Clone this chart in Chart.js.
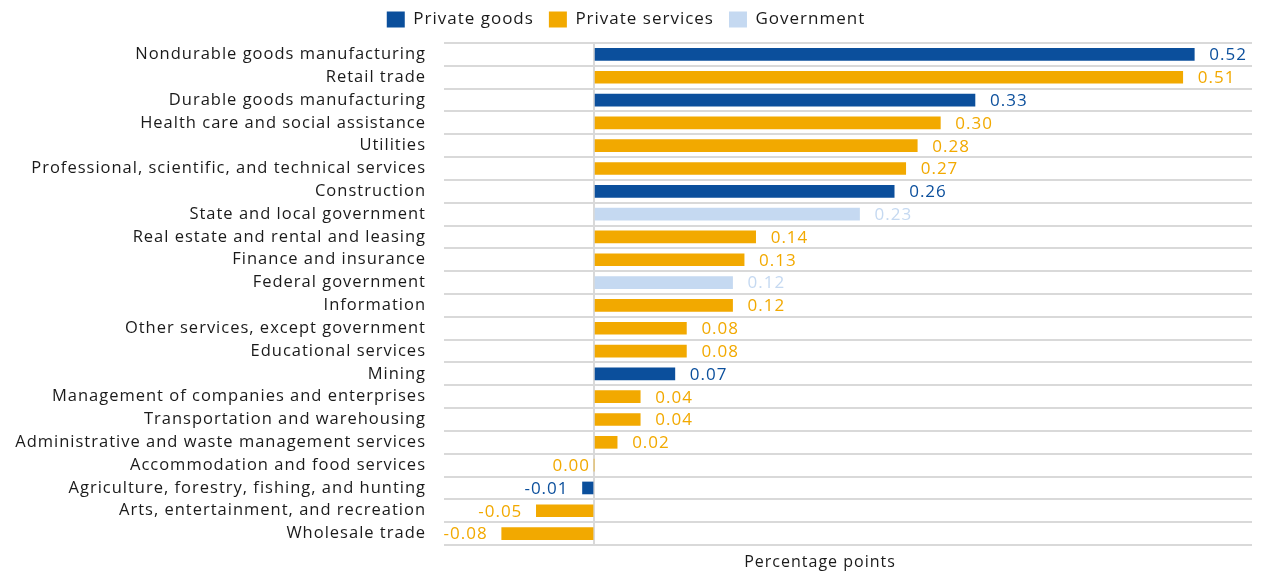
<!DOCTYPE html>
<html>
<head>
<meta charset="utf-8">
<script src="https://cdn.jsdelivr.net/npm/chart.js@4.4.1/dist/chart.umd.min.js"></script>
<style>
  html, body { margin: 0; padding: 0; background: #fff; }
  #wrap { width: 1261px; height: 573px; }
</style>
</head>
<body>
<div id="wrap"><canvas id="chart"></canvas></div>
<script>
const industries = [
  'Nondurable goods manufacturing',
  'Retail trade',
  'Durable goods manufacturing',
  'Health care and social assistance',
  'Utilities',
  'Professional, scientific, and technical services',
  'Construction',
  'State and local government',
  'Real estate and rental and leasing',
  'Finance and insurance',
  'Federal government',
  'Information',
  'Other services, except government',
  'Educational services',
  'Mining',
  'Management of companies and enterprises',
  'Transportation and warehousing',
  'Administrative and waste management services',
  'Accommodation and food services',
  'Agriculture, forestry, fishing, and hunting',
  'Arts, entertainment, and recreation',
  'Wholesale trade'
];
const contributions = [0.52, 0.51, 0.33, 0.30, 0.28, 0.27, 0.26, 0.23, 0.14, 0.13, 0.12,
  0.12, 0.08, 0.08, 0.07, 0.04, 0.04, 0.02, 0.00, -0.01, -0.05, -0.08];
// 0 = private goods, 1 = private services, 2 = government
const sectors = [0, 1, 0, 1, 1, 1, 0, 2, 1, 1, 2, 1, 1, 1, 0, 1, 1, 1, 1, 0, 1, 1];
const sectorNames = ['Private goods', 'Private services', 'Government'];
const sectorColors = ['#0b4f9c', '#f2a900', '#c5d9f1'];

const FONT = '"Open Sans", sans-serif';
const TEXT = '#1a1a1a';

// slightly looser lettering for all chart text
const spacing = {
  id: 'spacing',
  beforeLayout(chart) { chart.ctx.letterSpacing = '1px'; },
  beforeDraw(chart) { chart.ctx.letterSpacing = '1px'; }
};

// value labels at the outer end of each bar, coloured like the bar
const valueLabels = {
  id: 'valueLabels',
  afterDatasetsDraw(chart) {
    const ctx = chart.ctx;
    const meta = chart.getDatasetMeta(0);
    ctx.save();
    ctx.font = '17px ' + FONT;
    ctx.textBaseline = 'middle';
    meta.data.forEach((bar, i) => {
      const v = contributions[i];
      ctx.fillStyle = sectorColors[sectors[i]];
      const txt = v.toFixed(2);
      if (v > 0) {
        ctx.textAlign = 'left';
        ctx.fillText(txt, bar.x + 15, bar.y + 1);
      } else {
        ctx.textAlign = 'right';
        ctx.fillText(txt, bar.x - (v === 0 ? 4 : 14), bar.y + 1);
      }
    });
    ctx.restore();
  }
};

// axis caption under the plot
const axisCaption = {
  id: 'axisCaption',
  afterDraw(chart) {
    const { ctx, chartArea } = chart;
    ctx.save();
    ctx.font = '16px ' + FONT;
    ctx.fillStyle = TEXT;
    ctx.textAlign = 'center';
    ctx.textBaseline = 'middle';
    ctx.fillText('Percentage points', (chartArea.left + chartArea.right) / 2 - 28, chart.height - 11);
    ctx.restore();
  }
};

// fixed legend height so the plot starts right below it
const legendSpace = {
  id: 'legendSpace',
  beforeInit(chart) {
    const fit = chart.legend.fit;
    chart.legend.fit = function () {
      fit.call(this);
      this.height = 47;
    };
  }
};

new Chart(document.getElementById('chart'), {
  type: 'bar',
  data: {
    labels: industries,
    datasets: [{
      data: contributions,
      backgroundColor: sectors.map(s => sectorColors[s]),
      barThickness: 12
    }]
  },
  options: {
    indexAxis: 'y',
    responsive: true,
    maintainAspectRatio: false,
    animation: false,
    layout: { padding: { left: 0, right: 9, top: -4, bottom: 0 } },
    plugins: {
      tooltip: { enabled: false },
      legend: {
        position: 'top',
        onClick: null,
        labels: {
          boxWidth: 18,
          boxHeight: 16,
          padding: 15,
          color: TEXT,
          font: { family: FONT, size: 17 },
          generateLabels: () => sectorNames.map((name, i) => ({
            text: name,
            fillStyle: sectorColors[i],
            strokeStyle: sectorColors[i],
            lineWidth: 0,
            hidden: false,
            fontColor: TEXT
          }))
        }
      }
    },
    scales: {
      x: {
        min: -0.13,
        max: 0.57,
        afterBuildTicks: s => { s.ticks = [{ value: 0 }]; },
        afterFit: s => { s.height = 28; },
        ticks: { display: false },
        border: { display: false },
        grid: { color: '#d9d9d9', lineWidth: 2, drawTicks: false }
      },
      y: {
        afterFit: s => { s.width = 444; },
        border: { display: false },
        grid: { color: '#d9d9d9', lineWidth: 2, drawTicks: false, offset: true },
        ticks: { color: TEXT, padding: 18, font: { family: FONT, size: 16.5 } }
      }
    }
  },
  plugins: [spacing, valueLabels, axisCaption, legendSpace]
});
</script>
</body>
</html>
